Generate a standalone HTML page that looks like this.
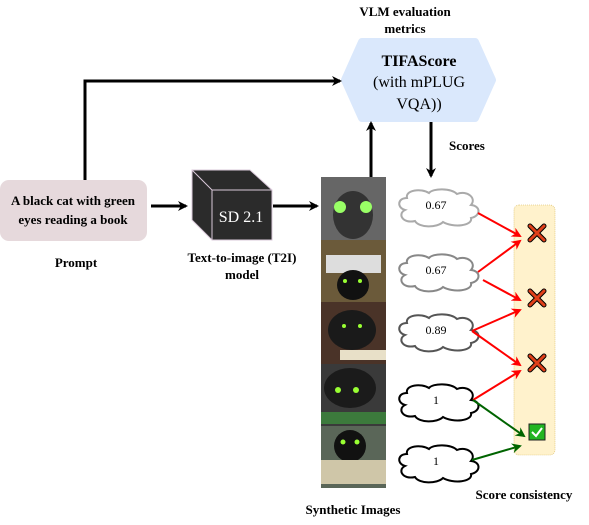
<!DOCTYPE html>
<html><head><meta charset="utf-8"><style>
html,body{margin:0;padding:0;background:#fff;}
svg{display:block;}
svg text{font-family:"Liberation Serif","Times New Roman",serif;}
</style></head><body>
<svg width="589" height="525" viewBox="0 0 589 525" xmlns="http://www.w3.org/2000/svg" font-family="Liberation Serif, serif">
<defs>
<marker id="ab" markerWidth="10" markerHeight="10" refX="8" refY="5" orient="auto" markerUnits="userSpaceOnUse"><path d="M0,0 L10,5 L0,10 L3,5 z" fill="#000"/></marker>
<marker id="ar" markerWidth="10" markerHeight="10" refX="8" refY="5" orient="auto" markerUnits="userSpaceOnUse"><path d="M0,0 L10,5 L0,10 L3,5 z" fill="#f00"/></marker>
<marker id="ag" markerWidth="10" markerHeight="10" refX="8" refY="5" orient="auto" markerUnits="userSpaceOnUse"><path d="M0,0 L10,5 L0,10 L3,5 z" fill="#006400"/></marker>
<path id="cl" d="M10,10 C0,10 0,20 8,22 C0,26 6,36 18,33 C22,40 40,40 46,34 C56,40 76,38 74,30 C84,28 84,18 74,17 C80,10 70,2 60,6 C54,0 36,0 32,5 C24,0 8,2 10,10 z"/>
</defs>
<text x="405" y="16" font-size="13" font-weight="bold" text-anchor="middle">VLM evaluation</text>
<text x="405" y="33" font-size="13" font-weight="bold" text-anchor="middle">metrics</text>
<polygon points="362,42 475,42 492,80 475,118 362,118 345,80" fill="#dae8fc" stroke="#dae8fc" stroke-linejoin="round" stroke-width="8"/>
<text x="419" y="66" font-size="16" font-weight="bold" text-anchor="middle">TIFAScore</text>
<text x="419" y="87" font-size="16" text-anchor="middle">(with mPLUG</text>
<text x="419" y="109" font-size="16" text-anchor="middle">VQA))</text>
<rect x="0" y="180" width="147" height="61" rx="9" fill="#e6d9dc"/>
<text x="73" y="205" font-size="13" font-weight="bold" text-anchor="middle">A black cat with green</text>
<text x="73" y="224" font-size="13" font-weight="bold" text-anchor="middle">eyes reading a book</text>
<text x="76" y="267" font-size="13" font-weight="bold" text-anchor="middle">Prompt</text>
<polyline points="85,180 85,81 340,81" fill="none" stroke="#000" stroke-width="3" marker-end="url(#ab)"/>
<line x1="151" y1="206" x2="186" y2="206" stroke="#000" stroke-width="3" marker-end="url(#ab)"/>
<polygon points="192,170 250,170 272,190 272,240 212,240 192,220" fill="#2b2b2b" stroke="#d9c8d9" stroke-width="1"/>
<polyline points="192,170 212,190 272,190" fill="none" stroke="#d9c8d9"/>
<line x1="212" y1="190" x2="212" y2="240" stroke="#d9c8d9"/>
<text x="241" y="222" font-size="16" fill="#fff" text-anchor="middle">SD 2.1</text>
<text x="242" y="262" font-size="13" font-weight="bold" text-anchor="middle">Text-to-image (T2I)</text>
<text x="242" y="279" font-size="13" font-weight="bold" text-anchor="middle">model</text>
<line x1="273" y1="206" x2="317" y2="206" stroke="#000" stroke-width="3" marker-end="url(#ab)"/>
<line x1="371" y1="178" x2="371" y2="123" stroke="#000" stroke-width="3" marker-end="url(#ab)"/>
<line x1="431" y1="122" x2="431" y2="176" stroke="#000" stroke-width="3" marker-end="url(#ab)"/>
<text x="449" y="150" font-size="13" font-weight="bold">Scores</text>
<!-- images -->
<rect x="321" y="177" width="65" height="63" fill="#666"/>
<rect x="321" y="240" width="65" height="62" fill="#6b5a3a"/>
<rect x="321" y="302" width="65" height="62" fill="#4a3328"/>
<rect x="321" y="364" width="65" height="62" fill="#3a3a3a"/>
<rect x="321" y="426" width="65" height="62" fill="#5a6658"/>
<ellipse cx="353" cy="215" rx="20" ry="24" fill="#333"/>
<circle cx="340" cy="207" r="6" fill="#9f6"/><circle cx="366" cy="207" r="6" fill="#9f6"/>
<rect x="326" y="255" width="55" height="18" fill="#ddd"/>
<ellipse cx="353" cy="285" rx="16" ry="15" fill="#111"/>
<ellipse cx="352" cy="330" rx="24" ry="20" fill="#1a1a1a"/>
<rect x="340" y="350" width="46" height="10" fill="#e8e0c8"/>
<ellipse cx="350" cy="388" rx="26" ry="20" fill="#1b1b1b"/>
<rect x="321" y="412" width="65" height="12" fill="#3c7a3c"/>
<ellipse cx="350" cy="446" rx="16" ry="16" fill="#111"/>
<rect x="321" y="460" width="65" height="24" fill="#cfc6a8"/>
<g fill="#9f3"><circle cx="345" cy="281" r="2"/><circle cx="360" cy="281" r="2"/><circle cx="344" cy="326" r="2"/><circle cx="360" cy="326" r="2"/><circle cx="338" cy="390" r="3"/><circle cx="356" cy="390" r="3"/><circle cx="343" cy="442" r="2.5"/><circle cx="357" cy="442" r="2.5"/></g>
<text x="353" y="514" font-size="13" font-weight="bold" text-anchor="middle">Synthetic Images</text>
<!-- panel -->
<rect x="514" y="205" width="41" height="250" rx="5" fill="#fff2cc" stroke="#d6b656" stroke-dasharray="1,1" stroke-width="0.6"/>
<text x="524" y="499" font-size="13" font-weight="bold" text-anchor="middle">Score consistency</text>
<!-- clouds -->
<use href="#cl" transform="translate(397,188)" fill="#fff" stroke="#aaa" stroke-width="2"/>
<use href="#cl" transform="translate(397,253)" fill="#fff" stroke="#888" stroke-width="2"/>
<use href="#cl" transform="translate(397,313)" fill="#fff" stroke="#555" stroke-width="2"/>
<use href="#cl" transform="translate(397,383)" fill="#fff" stroke="#000" stroke-width="2"/>
<use href="#cl" transform="translate(397,444)" fill="#fff" stroke="#000" stroke-width="2"/>
<g font-size="12" text-anchor="middle"><text x="436" y="209">0.67</text><text x="436" y="274">0.67</text><text x="436" y="334">0.89</text><text x="436" y="404">1</text><text x="436" y="465">1</text></g>
<!-- arrows -->
<g stroke-width="2" fill="none">
<line x1="478" y1="213" x2="520" y2="236" stroke="#f00" marker-end="url(#ar)"/>
<line x1="478" y1="272" x2="520" y2="241" stroke="#f00" marker-end="url(#ar)"/>
<line x1="483" y1="280" x2="520" y2="300" stroke="#f00" marker-end="url(#ar)"/>
<line x1="472" y1="331" x2="520" y2="310" stroke="#f00" marker-end="url(#ar)"/>
<line x1="472" y1="331" x2="520" y2="365" stroke="#f00" marker-end="url(#ar)"/>
<line x1="473" y1="400" x2="520" y2="371" stroke="#f00" marker-end="url(#ar)"/>
<line x1="473" y1="400" x2="524" y2="436" stroke="#006400" marker-end="url(#ag)"/>
<line x1="472" y1="460" x2="520" y2="446" stroke="#006400" marker-end="url(#ag)"/>
</g>
<g stroke="#000" stroke-width="5" stroke-linecap="round"><path d="M530,226 L544,240 M544,226 L530,240"/><path d="M530,291 L544,305 M544,291 L530,305"/><path d="M530,356 L544,370 M544,356 L530,370"/></g>
<g stroke="#e0401a" stroke-width="3" stroke-linecap="round"><path d="M530,226 L544,240 M544,226 L530,240"/><path d="M530,291 L544,305 M544,291 L530,305"/><path d="M530,356 L544,370 M544,356 L530,370"/></g>
<rect x="529" y="424" width="16" height="16" fill="#22b522" stroke="#222"/>
<path d="M532,432 L536,436 L542,428" stroke="#fff" stroke-width="2" fill="none"/>
</svg>
</body></html>
